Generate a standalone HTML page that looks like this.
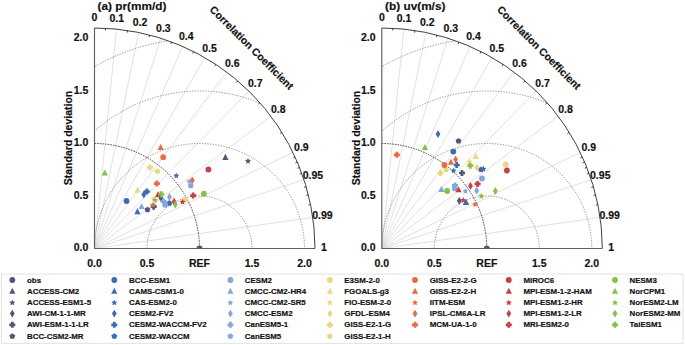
<!DOCTYPE html>
<html><head><meta charset="utf-8"><style>
html,body{margin:0;padding:0;background:#fff;}
svg{display:block;}
text{fill:#111;stroke:#111;stroke-width:0.18px;}
</style></head><body>
<svg width="685" height="345" viewBox="0 0 685 345">
<rect width="685" height="345" fill="#fff"/>
<clipPath id="clip0"><path d="M94.5,248.5 L94.5,28 A220.5,220.5 0 0 1 315,248.5 Z"/></clipPath>
<line x1="94.5" y1="248.5" x2="116.55" y2="29.11" stroke="#d4d4d4" stroke-width="0.7"/>
<line x1="94.5" y1="248.5" x2="138.6" y2="32.46" stroke="#d4d4d4" stroke-width="0.7"/>
<line x1="94.5" y1="248.5" x2="160.65" y2="38.16" stroke="#d4d4d4" stroke-width="0.7"/>
<line x1="94.5" y1="248.5" x2="182.7" y2="46.41" stroke="#d4d4d4" stroke-width="0.7"/>
<line x1="94.5" y1="248.5" x2="204.75" y2="57.54" stroke="#d4d4d4" stroke-width="0.7"/>
<line x1="94.5" y1="248.5" x2="226.8" y2="72.1" stroke="#d4d4d4" stroke-width="0.7"/>
<line x1="94.5" y1="248.5" x2="248.85" y2="91.03" stroke="#d4d4d4" stroke-width="0.7"/>
<line x1="94.5" y1="248.5" x2="270.9" y2="116.2" stroke="#d4d4d4" stroke-width="0.7"/>
<line x1="94.5" y1="248.5" x2="292.95" y2="152.39" stroke="#d4d4d4" stroke-width="0.7"/>
<line x1="94.5" y1="248.5" x2="303.98" y2="179.65" stroke="#d4d4d4" stroke-width="0.7"/>
<line x1="94.5" y1="248.5" x2="312.79" y2="217.39" stroke="#d4d4d4" stroke-width="0.7"/>
<g clip-path="url(#clip0)" fill="none" stroke="#707070" stroke-width="0.7" stroke-dasharray="1.4,1.3"><circle cx="199.5" cy="248.5" r="52.5"/><circle cx="199.5" cy="248.5" r="105"/><circle cx="199.5" cy="248.5" r="157.5"/><circle cx="199.5" cy="248.5" r="210"/></g>
<path d="M94.5,143.5 A105,105 0 0 1 199.5,248.5" fill="none" stroke="#333" stroke-width="0.9" stroke-dasharray="1.6,1.05"/>
<path d="M94.5,28 A220.5,220.5 0 0 1 315,248.5" fill="none" stroke="#2a2a2a" stroke-width="0.9"/>
<line x1="105.53" y1="28.28" x2="105.42" y2="30.47" stroke="#222" stroke-width="0.8"/>
<line x1="127.57" y1="30.49" x2="127.25" y2="32.67" stroke="#222" stroke-width="0.8"/>
<line x1="149.62" y1="35" x2="149.07" y2="37.13" stroke="#222" stroke-width="0.8"/>
<line x1="171.68" y1="41.95" x2="170.91" y2="44.01" stroke="#222" stroke-width="0.8"/>
<line x1="193.73" y1="51.59" x2="192.74" y2="53.55" stroke="#222" stroke-width="0.8"/>
<line x1="215.78" y1="64.35" x2="214.56" y2="66.18" stroke="#222" stroke-width="0.8"/>
<line x1="237.83" y1="80.93" x2="236.4" y2="82.61" stroke="#222" stroke-width="0.8"/>
<line x1="259.88" y1="102.65" x2="258.23" y2="104.11" stroke="#222" stroke-width="0.8"/>
<line x1="281.92" y1="132.34" x2="280.06" y2="133.5" stroke="#222" stroke-width="0.8"/>
<line x1="295.15" y1="157.08" x2="293.15" y2="157.99" stroke="#222" stroke-width="0.8"/>
<line x1="297.36" y1="162.08" x2="295.34" y2="162.94" stroke="#222" stroke-width="0.8"/>
<line x1="299.56" y1="167.45" x2="297.52" y2="168.26" stroke="#222" stroke-width="0.8"/>
<line x1="301.77" y1="173.27" x2="299.7" y2="174.02" stroke="#222" stroke-width="0.8"/>
<line x1="306.18" y1="186.76" x2="304.07" y2="187.38" stroke="#222" stroke-width="0.8"/>
<line x1="308.38" y1="194.9" x2="306.25" y2="195.43" stroke="#222" stroke-width="0.8"/>
<line x1="310.59" y1="204.62" x2="308.43" y2="205.06" stroke="#222" stroke-width="0.8"/>
<path d="M94.5,28 L94.5,248.5 L315,248.5" fill="none" stroke="#606060" stroke-width="1.15"/>
<text x="94.5" y="21.15" font-family="Liberation Sans, sans-serif" font-weight="bold" font-size="10.5" text-anchor="middle">0</text>
<text x="116.8" y="22.2" font-family="Liberation Sans, sans-serif" font-weight="bold" font-size="10.5" text-anchor="middle">0.1</text>
<text x="140.05" y="25.75" font-family="Liberation Sans, sans-serif" font-weight="bold" font-size="10.5" text-anchor="middle">0.2</text>
<text x="163.4" y="31.55" font-family="Liberation Sans, sans-serif" font-weight="bold" font-size="10.5" text-anchor="middle">0.3</text>
<text x="186.2" y="40.45" font-family="Liberation Sans, sans-serif" font-weight="bold" font-size="10.5" text-anchor="middle">0.4</text>
<text x="209.5" y="51.8" font-family="Liberation Sans, sans-serif" font-weight="bold" font-size="10.5" text-anchor="middle">0.5</text>
<text x="232.3" y="67" font-family="Liberation Sans, sans-serif" font-weight="bold" font-size="10.5" text-anchor="middle">0.6</text>
<text x="255.3" y="86.65" font-family="Liberation Sans, sans-serif" font-weight="bold" font-size="10.5" text-anchor="middle">0.7</text>
<text x="278.3" y="113" font-family="Liberation Sans, sans-serif" font-weight="bold" font-size="10.5" text-anchor="middle">0.8</text>
<text x="301.4" y="150.65" font-family="Liberation Sans, sans-serif" font-weight="bold" font-size="10.5" text-anchor="middle">0.9</text>
<text x="312.95" y="179.4" font-family="Liberation Sans, sans-serif" font-weight="bold" font-size="10.5" text-anchor="middle">0.95</text>
<text x="322.4" y="219.1" font-family="Liberation Sans, sans-serif" font-weight="bold" font-size="10.5" text-anchor="middle">0.99</text>
<text x="323.9" y="251.1" font-family="Liberation Sans, sans-serif" font-weight="bold" font-size="10.5" text-anchor="middle">1</text>
<text x="88.3" y="251.4" font-family="Liberation Sans, sans-serif" font-weight="bold" font-size="10.5" text-anchor="end">0.0</text>
<text x="88.3" y="198.9" font-family="Liberation Sans, sans-serif" font-weight="bold" font-size="10.5" text-anchor="end">0.5</text>
<text x="88.3" y="146.4" font-family="Liberation Sans, sans-serif" font-weight="bold" font-size="10.5" text-anchor="end">1.0</text>
<text x="88.3" y="93.9" font-family="Liberation Sans, sans-serif" font-weight="bold" font-size="10.5" text-anchor="end">1.5</text>
<text x="88.3" y="41.4" font-family="Liberation Sans, sans-serif" font-weight="bold" font-size="10.5" text-anchor="end">2.0</text>
<text x="94.5" y="267.1" font-family="Liberation Sans, sans-serif" font-weight="bold" font-size="10.5" text-anchor="middle">0.0</text>
<text x="147" y="267.1" font-family="Liberation Sans, sans-serif" font-weight="bold" font-size="10.5" text-anchor="middle">0.5</text>
<text x="199.5" y="267.1" font-family="Liberation Sans, sans-serif" font-weight="bold" font-size="10.5" text-anchor="middle">REF</text>
<text x="252" y="267.1" font-family="Liberation Sans, sans-serif" font-weight="bold" font-size="10.5" text-anchor="middle">1.5</text>
<text x="304.5" y="267.1" font-family="Liberation Sans, sans-serif" font-weight="bold" font-size="10.5" text-anchor="middle">2.0</text>
<text x="0" y="0" font-family="Liberation Sans, sans-serif" font-weight="bold" font-size="10.5" text-anchor="middle" transform="translate(72.2,138) rotate(-90)">Standard deviation</text>
<text x="0" y="0" font-family="Liberation Sans, sans-serif" font-weight="bold" font-size="10.5" transform="translate(209.1,10.3) rotate(45)">Correlation Coefficient</text>
<clipPath id="clip1"><path d="M381.8,248.5 L381.8,28 A220.5,220.5 0 0 1 602.3,248.5 Z"/></clipPath>
<line x1="381.8" y1="248.5" x2="403.85" y2="29.11" stroke="#d4d4d4" stroke-width="0.7"/>
<line x1="381.8" y1="248.5" x2="425.9" y2="32.46" stroke="#d4d4d4" stroke-width="0.7"/>
<line x1="381.8" y1="248.5" x2="447.95" y2="38.16" stroke="#d4d4d4" stroke-width="0.7"/>
<line x1="381.8" y1="248.5" x2="470" y2="46.41" stroke="#d4d4d4" stroke-width="0.7"/>
<line x1="381.8" y1="248.5" x2="492.05" y2="57.54" stroke="#d4d4d4" stroke-width="0.7"/>
<line x1="381.8" y1="248.5" x2="514.1" y2="72.1" stroke="#d4d4d4" stroke-width="0.7"/>
<line x1="381.8" y1="248.5" x2="536.15" y2="91.03" stroke="#d4d4d4" stroke-width="0.7"/>
<line x1="381.8" y1="248.5" x2="558.2" y2="116.2" stroke="#d4d4d4" stroke-width="0.7"/>
<line x1="381.8" y1="248.5" x2="580.25" y2="152.39" stroke="#d4d4d4" stroke-width="0.7"/>
<line x1="381.8" y1="248.5" x2="591.27" y2="179.65" stroke="#d4d4d4" stroke-width="0.7"/>
<line x1="381.8" y1="248.5" x2="600.1" y2="217.39" stroke="#d4d4d4" stroke-width="0.7"/>
<g clip-path="url(#clip1)" fill="none" stroke="#707070" stroke-width="0.7" stroke-dasharray="1.4,1.3"><circle cx="486.8" cy="248.5" r="52.5"/><circle cx="486.8" cy="248.5" r="105"/><circle cx="486.8" cy="248.5" r="157.5"/><circle cx="486.8" cy="248.5" r="210"/></g>
<path d="M381.8,143.5 A105,105 0 0 1 486.8,248.5" fill="none" stroke="#333" stroke-width="0.9" stroke-dasharray="1.6,1.05"/>
<path d="M381.8,28 A220.5,220.5 0 0 1 602.3,248.5" fill="none" stroke="#2a2a2a" stroke-width="0.9"/>
<line x1="392.83" y1="28.28" x2="392.72" y2="30.47" stroke="#222" stroke-width="0.8"/>
<line x1="414.88" y1="30.49" x2="414.55" y2="32.67" stroke="#222" stroke-width="0.8"/>
<line x1="436.93" y1="35" x2="436.38" y2="37.13" stroke="#222" stroke-width="0.8"/>
<line x1="458.98" y1="41.95" x2="458.21" y2="44.01" stroke="#222" stroke-width="0.8"/>
<line x1="481.03" y1="51.59" x2="480.04" y2="53.55" stroke="#222" stroke-width="0.8"/>
<line x1="503.08" y1="64.35" x2="501.87" y2="66.18" stroke="#222" stroke-width="0.8"/>
<line x1="525.12" y1="80.93" x2="523.7" y2="82.61" stroke="#222" stroke-width="0.8"/>
<line x1="547.17" y1="102.65" x2="545.53" y2="104.11" stroke="#222" stroke-width="0.8"/>
<line x1="569.23" y1="132.34" x2="567.36" y2="133.5" stroke="#222" stroke-width="0.8"/>
<line x1="582.46" y1="157.08" x2="580.45" y2="157.99" stroke="#222" stroke-width="0.8"/>
<line x1="584.66" y1="162.08" x2="582.64" y2="162.94" stroke="#222" stroke-width="0.8"/>
<line x1="586.87" y1="167.45" x2="584.82" y2="168.26" stroke="#222" stroke-width="0.8"/>
<line x1="589.07" y1="173.27" x2="587" y2="174.02" stroke="#222" stroke-width="0.8"/>
<line x1="593.48" y1="186.76" x2="591.37" y2="187.38" stroke="#222" stroke-width="0.8"/>
<line x1="595.68" y1="194.9" x2="593.55" y2="195.43" stroke="#222" stroke-width="0.8"/>
<line x1="597.89" y1="204.62" x2="595.73" y2="205.06" stroke="#222" stroke-width="0.8"/>
<path d="M381.8,28 L381.8,248.5 L602.3,248.5" fill="none" stroke="#606060" stroke-width="1.15"/>
<text x="381.8" y="21.15" font-family="Liberation Sans, sans-serif" font-weight="bold" font-size="10.5" text-anchor="middle">0</text>
<text x="404.1" y="22.2" font-family="Liberation Sans, sans-serif" font-weight="bold" font-size="10.5" text-anchor="middle">0.1</text>
<text x="427.35" y="25.75" font-family="Liberation Sans, sans-serif" font-weight="bold" font-size="10.5" text-anchor="middle">0.2</text>
<text x="450.7" y="31.55" font-family="Liberation Sans, sans-serif" font-weight="bold" font-size="10.5" text-anchor="middle">0.3</text>
<text x="473.5" y="40.45" font-family="Liberation Sans, sans-serif" font-weight="bold" font-size="10.5" text-anchor="middle">0.4</text>
<text x="496.8" y="51.8" font-family="Liberation Sans, sans-serif" font-weight="bold" font-size="10.5" text-anchor="middle">0.5</text>
<text x="519.6" y="67" font-family="Liberation Sans, sans-serif" font-weight="bold" font-size="10.5" text-anchor="middle">0.6</text>
<text x="542.6" y="86.65" font-family="Liberation Sans, sans-serif" font-weight="bold" font-size="10.5" text-anchor="middle">0.7</text>
<text x="565.6" y="113" font-family="Liberation Sans, sans-serif" font-weight="bold" font-size="10.5" text-anchor="middle">0.8</text>
<text x="588.7" y="150.65" font-family="Liberation Sans, sans-serif" font-weight="bold" font-size="10.5" text-anchor="middle">0.9</text>
<text x="600.25" y="179.4" font-family="Liberation Sans, sans-serif" font-weight="bold" font-size="10.5" text-anchor="middle">0.95</text>
<text x="609.7" y="219.1" font-family="Liberation Sans, sans-serif" font-weight="bold" font-size="10.5" text-anchor="middle">0.99</text>
<text x="611.2" y="251.1" font-family="Liberation Sans, sans-serif" font-weight="bold" font-size="10.5" text-anchor="middle">1</text>
<text x="375.6" y="251.4" font-family="Liberation Sans, sans-serif" font-weight="bold" font-size="10.5" text-anchor="end">0.0</text>
<text x="375.6" y="198.9" font-family="Liberation Sans, sans-serif" font-weight="bold" font-size="10.5" text-anchor="end">0.5</text>
<text x="375.6" y="146.4" font-family="Liberation Sans, sans-serif" font-weight="bold" font-size="10.5" text-anchor="end">1.0</text>
<text x="375.6" y="93.9" font-family="Liberation Sans, sans-serif" font-weight="bold" font-size="10.5" text-anchor="end">1.5</text>
<text x="375.6" y="41.4" font-family="Liberation Sans, sans-serif" font-weight="bold" font-size="10.5" text-anchor="end">2.0</text>
<text x="381.8" y="267.1" font-family="Liberation Sans, sans-serif" font-weight="bold" font-size="10.5" text-anchor="middle">0.0</text>
<text x="434.3" y="267.1" font-family="Liberation Sans, sans-serif" font-weight="bold" font-size="10.5" text-anchor="middle">0.5</text>
<text x="486.8" y="267.1" font-family="Liberation Sans, sans-serif" font-weight="bold" font-size="10.5" text-anchor="middle">REF</text>
<text x="539.3" y="267.1" font-family="Liberation Sans, sans-serif" font-weight="bold" font-size="10.5" text-anchor="middle">1.5</text>
<text x="591.8" y="267.1" font-family="Liberation Sans, sans-serif" font-weight="bold" font-size="10.5" text-anchor="middle">2.0</text>
<text x="0" y="0" font-family="Liberation Sans, sans-serif" font-weight="bold" font-size="10.5" text-anchor="middle" transform="translate(359.5,138) rotate(-90)">Standard deviation</text>
<text x="0" y="0" font-family="Liberation Sans, sans-serif" font-weight="bold" font-size="10.5" transform="translate(496.4,10.3) rotate(45)">Correlation Coefficient</text>
<path d="M196.5,248.5 A3,3 0 0 1 202.5,248.5 Z" fill="#4e5879"/>
<polygon points="225.4,153.8 228.5,159.9 222.3,159.9" fill="#4e5879"/>
<polygon points="248,157.9 248.91,159.85 251.04,160.11 249.47,161.58 249.88,163.69 248,162.65 246.12,163.69 246.53,161.58 244.96,160.11 247.09,159.85" fill="#4e5879"/>
<polygon points="161,194.3 163.4,198.2 161,202.1 158.6,198.2" fill="#4e5879"/>
<polygon points="152.35,203.7 155.05,203.7 155.05,205.35 156.7,205.35 156.7,208.05 155.05,208.05 155.05,209.7 152.35,209.7 152.35,208.05 150.7,208.05 150.7,205.35 152.35,205.35" fill="#4e5879"/>
<polygon points="147.5,206.7 150.45,208.84 149.32,212.31 145.68,212.31 144.55,208.84" fill="#4e5879"/>
<circle cx="126.5" cy="201" r="2.9" fill="#3a6cb6"/>
<polygon points="137.4,208.1 140.5,214.2 134.3,214.2" fill="#3a6cb6"/>
<polygon points="176.3,172.5 177.21,174.45 179.34,174.71 177.77,176.18 178.18,178.29 176.3,177.25 174.42,178.29 174.83,176.18 173.26,174.71 175.39,174.45" fill="#3a6cb6"/>
<polygon points="143.8,190.6 146.2,194.5 143.8,198.4 141.4,194.5" fill="#3a6cb6"/>
<polygon points="145.45,188.6 148.15,188.6 148.15,190.25 149.8,190.25 149.8,192.95 148.15,192.95 148.15,194.6 145.45,194.6 145.45,192.95 143.8,192.95 143.8,190.25 145.45,190.25" fill="#3a6cb6"/>
<polygon points="169.4,200.1 172.35,202.24 171.22,205.71 167.58,205.71 166.45,202.24" fill="#3a6cb6"/>
<circle cx="165.2" cy="204.8" r="2.9" fill="#80a7e2"/>
<polygon points="141.6,202.9 144.7,209 138.5,209" fill="#80a7e2"/>
<polygon points="189.3,178.3 190.21,180.25 192.34,180.51 190.77,181.98 191.18,184.09 189.3,183.05 187.42,184.09 187.83,181.98 186.26,180.51 188.39,180.25" fill="#80a7e2"/>
<polygon points="169.4,193.1 171.8,197 169.4,200.9 167,197" fill="#80a7e2"/>
<polygon points="162.15,198.4 164.85,198.4 164.85,200.05 166.5,200.05 166.5,202.75 164.85,202.75 164.85,204.4 162.15,204.4 162.15,202.75 160.5,202.75 160.5,200.05 162.15,200.05" fill="#80a7e2"/>
<polygon points="190.7,182.7 193.65,184.84 192.52,188.31 188.88,188.31 187.75,184.84" fill="#80a7e2"/>
<circle cx="185.1" cy="199.7" r="2.9" fill="#ecd77a"/>
<polygon points="137.5,186.7 140.6,192.8 134.4,192.8" fill="#ecd77a"/>
<polygon points="153.7,195.6 154.61,197.55 156.74,197.81 155.17,199.28 155.58,201.39 153.7,200.35 151.82,201.39 152.23,199.28 150.66,197.81 152.79,197.55" fill="#ecd77a"/>
<polygon points="173.4,196.5 175.8,200.4 173.4,204.3 171,200.4" fill="#ecd77a"/>
<polygon points="148.55,164.4 151.25,164.4 151.25,166.05 152.9,166.05 152.9,168.75 151.25,168.75 151.25,170.4 148.55,170.4 148.55,168.75 146.9,168.75 146.9,166.05 148.55,166.05" fill="#ecd77a"/>
<polygon points="157.4,168.2 160.35,170.34 159.22,173.81 155.58,173.81 154.45,170.34" fill="#ecd77a"/>
<circle cx="163.2" cy="157.2" r="2.9" fill="#ec6a40"/>
<polygon points="160.7,143.8 163.8,149.9 157.6,149.9" fill="#ec6a40"/>
<polygon points="153,201.8 153.91,203.75 156.04,204.01 154.47,205.48 154.88,207.59 153,206.55 151.12,207.59 151.53,205.48 149.96,204.01 152.09,203.75" fill="#ec6a40"/>
<polygon points="192.3,176.4 194.7,180.3 192.3,184.2 189.9,180.3" fill="#ec6a40"/>
<polygon points="155.55,180.6 158.25,180.6 158.25,182.25 159.9,182.25 159.9,184.95 158.25,184.95 158.25,186.6 155.55,186.6 155.55,184.95 153.9,184.95 153.9,182.25 155.55,182.25" fill="#ec6a40"/>
<circle cx="208.4" cy="169.5" r="2.9" fill="#d13a47"/>
<polygon points="158.1,191.1 161.2,197.2 155,197.2" fill="#d13a47"/>
<polygon points="182.5,198.7 183.41,200.65 185.54,200.91 183.97,202.38 184.38,204.49 182.5,203.45 180.62,204.49 181.03,202.38 179.46,200.91 181.59,200.65" fill="#d13a47"/>
<polygon points="174.3,198 176.7,201.9 174.3,205.8 171.9,201.9" fill="#d13a47"/>
<polygon points="191.85,192.6 194.55,192.6 194.55,194.25 196.2,194.25 196.2,196.95 194.55,196.95 194.55,198.6 191.85,198.6 191.85,196.95 190.2,196.95 190.2,194.25 191.85,194.25" fill="#d13a47"/>
<circle cx="203.9" cy="193.7" r="2.9" fill="#86c241"/>
<polygon points="104.8,169.5 107.9,175.6 101.7,175.6" fill="#86c241"/>
<polygon points="155.1,197 156.01,198.95 158.14,199.21 156.57,200.68 156.98,202.79 155.1,201.75 153.22,202.79 153.63,200.68 152.06,199.21 154.19,198.95" fill="#86c241"/>
<polygon points="175.3,200.6 177.7,204.5 175.3,208.4 172.9,204.5" fill="#86c241"/>
<polygon points="159.85,191.2 162.55,191.2 162.55,192.85 164.2,192.85 164.2,195.55 162.55,195.55 162.55,197.2 159.85,197.2 159.85,195.55 158.2,195.55 158.2,192.85 159.85,192.85" fill="#86c241"/>
<path d="M483.8,248.5 A3,3 0 0 1 489.8,248.5 Z" fill="#4e5879"/>
<polygon points="466,198.9 469.1,205 462.9,205" fill="#4e5879"/>
<polygon points="483.3,165.8 484.21,167.75 486.34,168.01 484.77,169.48 485.18,171.59 483.3,170.55 481.42,171.59 481.83,169.48 480.26,168.01 482.39,167.75" fill="#4e5879"/>
<polygon points="459.3,196.9 461.7,200.8 459.3,204.7 456.9,200.8" fill="#4e5879"/>
<polygon points="460.65,170 463.35,170 463.35,171.65 465,171.65 465,174.35 463.35,174.35 463.35,176 460.65,176 460.65,174.35 459,174.35 459,171.65 460.65,171.65" fill="#4e5879"/>
<polygon points="458.5,137.9 461.45,140.04 460.32,143.51 456.68,143.51 455.55,140.04" fill="#4e5879"/>
<circle cx="453.3" cy="151.6" r="2.9" fill="#3a6cb6"/>
<polygon points="466,198.9 469.1,205 462.9,205" fill="#3a6cb6"/>
<polygon points="453.5,167.5 454.41,169.45 456.54,169.71 454.97,171.18 455.38,173.29 453.5,172.25 451.62,173.29 452.03,171.18 450.46,169.71 452.59,169.45" fill="#3a6cb6"/>
<polygon points="438,130.2 440.4,134.1 438,138 435.6,134.1" fill="#3a6cb6"/>
<polygon points="455.35,162 458.05,162 458.05,163.65 459.7,163.65 459.7,166.35 458.05,166.35 458.05,168 455.35,168 455.35,166.35 453.7,166.35 453.7,163.65 455.35,163.65" fill="#3a6cb6"/>
<polygon points="481,166.5 483.95,168.64 482.82,172.11 479.18,172.11 478.05,168.64" fill="#3a6cb6"/>
<circle cx="482" cy="178.5" r="2.9" fill="#80a7e2"/>
<polygon points="441.5,185.8 444.6,191.9 438.4,191.9" fill="#80a7e2"/>
<polygon points="465.4,188.1 466.31,190.05 468.44,190.31 466.87,191.78 467.28,193.89 465.4,192.85 463.52,193.89 463.93,191.78 462.36,190.31 464.49,190.05" fill="#80a7e2"/>
<polygon points="476.7,186.7 479.1,190.6 476.7,194.5 474.3,190.6" fill="#80a7e2"/>
<polygon points="453.65,182.4 456.35,182.4 456.35,184.05 458,184.05 458,186.75 456.35,186.75 456.35,188.4 453.65,188.4 453.65,186.75 452,186.75 452,184.05 453.65,184.05" fill="#80a7e2"/>
<polygon points="454.6,185.6 457.55,187.74 456.42,191.21 452.78,191.21 451.65,187.74" fill="#80a7e2"/>
<circle cx="505.7" cy="164.5" r="2.9" fill="#ecd77a"/>
<polygon points="475.7,152.8 478.8,158.9 472.6,158.9" fill="#ecd77a"/>
<polygon points="469.4,158.6 470.31,160.55 472.44,160.81 470.87,162.28 471.28,164.39 469.4,163.35 467.52,164.39 467.93,162.28 466.36,160.81 468.49,160.55" fill="#ecd77a"/>
<polygon points="476.8,163.7 479.2,167.6 476.8,171.5 474.4,167.6" fill="#ecd77a"/>
<polygon points="439.05,170 441.75,170 441.75,171.65 443.4,171.65 443.4,174.35 441.75,174.35 441.75,176 439.05,176 439.05,174.35 437.4,174.35 437.4,171.65 439.05,171.65" fill="#ecd77a"/>
<polygon points="446.1,166.5 449.05,168.64 447.92,172.11 444.28,172.11 443.15,168.64" fill="#ecd77a"/>
<circle cx="444.4" cy="165" r="2.9" fill="#ec6a40"/>
<polygon points="450.9,158.7 454,164.8 447.8,164.8" fill="#ec6a40"/>
<polygon points="475.1,201.3 476.01,203.25 478.14,203.51 476.57,204.98 476.98,207.09 475.1,206.05 473.22,207.09 473.63,204.98 472.06,203.51 474.19,203.25" fill="#ec6a40"/>
<polygon points="455.6,155.5 458,159.4 455.6,163.3 453.2,159.4" fill="#ec6a40"/>
<polygon points="395.55,151.8 398.25,151.8 398.25,153.45 399.9,153.45 399.9,156.15 398.25,156.15 398.25,157.8 395.55,157.8 395.55,156.15 393.9,156.15 393.9,153.45 395.55,153.45" fill="#ec6a40"/>
<circle cx="506.9" cy="170.5" r="2.9" fill="#d13a47"/>
<polygon points="458.5,186.2 461.6,192.3 455.4,192.3" fill="#d13a47"/>
<polygon points="463.3,197.1 464.21,199.05 466.34,199.31 464.77,200.78 465.18,202.89 463.3,201.85 461.42,202.89 461.83,200.78 460.26,199.31 462.39,199.05" fill="#d13a47"/>
<polygon points="470.5,182 472.9,185.9 470.5,189.8 468.1,185.9" fill="#d13a47"/>
<polygon points="476.25,180.9 478.95,180.9 478.95,182.55 480.6,182.55 480.6,185.25 478.95,185.25 478.95,186.9 476.25,186.9 476.25,185.25 474.6,185.25 474.6,182.55 476.25,182.55" fill="#d13a47"/>
<circle cx="447.2" cy="191" r="2.9" fill="#86c241"/>
<polygon points="425,144 428.1,150.1 421.9,150.1" fill="#86c241"/>
<polygon points="481.3,192.9 482.21,194.85 484.34,195.11 482.77,196.58 483.18,198.69 481.3,197.65 479.42,198.69 479.83,196.58 478.26,195.11 480.39,194.85" fill="#86c241"/>
<polygon points="495.4,187.1 497.8,191 495.4,194.9 493,191" fill="#86c241"/>
<polygon points="468.95,162.7 471.65,162.7 471.65,164.35 473.3,164.35 473.3,167.05 471.65,167.05 471.65,168.7 468.95,168.7 468.95,167.05 467.3,167.05 467.3,164.35 468.95,164.35" fill="#86c241"/>
<text x="97.5" y="10.4" font-family="Liberation Sans, sans-serif" font-weight="bold" font-size="11.8">(a) pr(mm/d)</text>
<text x="385.1" y="10.4" font-family="Liberation Sans, sans-serif" font-weight="bold" font-size="11.8">(b) uv(m/s)</text>
<rect x="1.5" y="274" width="681.5" height="69.3" fill="#fff" stroke="#dcdcdc" stroke-width="0.8"/>
<circle cx="12.3" cy="280" r="2.9" fill="#4e5879"/>
<text x="27" y="282.65" font-family="Liberation Sans, sans-serif" font-weight="bold" font-size="7.9" fill="#111">obs</text>
<polygon points="12.3,287.7 15.4,293.8 9.2,293.8" fill="#4e5879"/>
<text x="27" y="293.85" font-family="Liberation Sans, sans-serif" font-weight="bold" font-size="7.9" fill="#111">ACCESS-CM2</text>
<polygon points="12.3,299.5 13.21,301.45 15.34,301.71 13.77,303.18 14.18,305.29 12.3,304.25 10.42,305.29 10.83,303.18 9.26,301.71 11.39,301.45" fill="#4e5879"/>
<text x="27" y="305.05" font-family="Liberation Sans, sans-serif" font-weight="bold" font-size="7.9" fill="#111">ACCESS-ESM1-5</text>
<polygon points="12.3,309.7 14.7,313.6 12.3,317.5 9.9,313.6" fill="#4e5879"/>
<text x="27" y="316.25" font-family="Liberation Sans, sans-serif" font-weight="bold" font-size="7.9" fill="#111">AWI-CM-1-1-MR</text>
<polygon points="10.95,321.8 13.65,321.8 13.65,323.45 15.3,323.45 15.3,326.15 13.65,326.15 13.65,327.8 10.95,327.8 10.95,326.15 9.3,326.15 9.3,323.45 10.95,323.45" fill="#4e5879"/>
<text x="27" y="327.45" font-family="Liberation Sans, sans-serif" font-weight="bold" font-size="7.9" fill="#111">AWI-ESM-1-1-LR</text>
<polygon points="12.3,333.2 15.25,335.34 14.12,338.81 10.48,338.81 9.35,335.34" fill="#4e5879"/>
<text x="27" y="338.65" font-family="Liberation Sans, sans-serif" font-weight="bold" font-size="7.9" fill="#111">BCC-CSM2-MR</text>
<circle cx="114.3" cy="280" r="2.9" fill="#3a6cb6"/>
<text x="129" y="282.65" font-family="Liberation Sans, sans-serif" font-weight="bold" font-size="7.9" fill="#111">BCC-ESM1</text>
<polygon points="114.3,287.7 117.4,293.8 111.2,293.8" fill="#3a6cb6"/>
<text x="129" y="293.85" font-family="Liberation Sans, sans-serif" font-weight="bold" font-size="7.9" fill="#111">CAMS-CSM1-0</text>
<polygon points="114.3,299.5 115.21,301.45 117.34,301.71 115.77,303.18 116.18,305.29 114.3,304.25 112.42,305.29 112.83,303.18 111.26,301.71 113.39,301.45" fill="#3a6cb6"/>
<text x="129" y="305.05" font-family="Liberation Sans, sans-serif" font-weight="bold" font-size="7.9" fill="#111">CAS-ESM2-0</text>
<polygon points="114.3,309.7 116.7,313.6 114.3,317.5 111.9,313.6" fill="#3a6cb6"/>
<text x="129" y="316.25" font-family="Liberation Sans, sans-serif" font-weight="bold" font-size="7.9" fill="#111">CESM2-FV2</text>
<polygon points="112.95,321.8 115.65,321.8 115.65,323.45 117.3,323.45 117.3,326.15 115.65,326.15 115.65,327.8 112.95,327.8 112.95,326.15 111.3,326.15 111.3,323.45 112.95,323.45" fill="#3a6cb6"/>
<text x="129" y="327.45" font-family="Liberation Sans, sans-serif" font-weight="bold" font-size="7.9" fill="#111">CESM2-WACCM-FV2</text>
<polygon points="114.3,333.2 117.25,335.34 116.12,338.81 112.48,338.81 111.35,335.34" fill="#3a6cb6"/>
<text x="129" y="338.65" font-family="Liberation Sans, sans-serif" font-weight="bold" font-size="7.9" fill="#111">CESM2-WACCM</text>
<circle cx="230.4" cy="280" r="2.9" fill="#80a7e2"/>
<text x="244.8" y="282.65" font-family="Liberation Sans, sans-serif" font-weight="bold" font-size="7.9" fill="#111">CESM2</text>
<polygon points="230.4,287.7 233.5,293.8 227.3,293.8" fill="#80a7e2"/>
<text x="244.8" y="293.85" font-family="Liberation Sans, sans-serif" font-weight="bold" font-size="7.9" fill="#111">CMCC-CM2-HR4</text>
<polygon points="230.4,299.5 231.31,301.45 233.44,301.71 231.87,303.18 232.28,305.29 230.4,304.25 228.52,305.29 228.93,303.18 227.36,301.71 229.49,301.45" fill="#80a7e2"/>
<text x="244.8" y="305.05" font-family="Liberation Sans, sans-serif" font-weight="bold" font-size="7.9" fill="#111">CMCC-CM2-SR5</text>
<polygon points="230.4,309.7 232.8,313.6 230.4,317.5 228,313.6" fill="#80a7e2"/>
<text x="244.8" y="316.25" font-family="Liberation Sans, sans-serif" font-weight="bold" font-size="7.9" fill="#111">CMCC-ESM2</text>
<polygon points="229.05,321.8 231.75,321.8 231.75,323.45 233.4,323.45 233.4,326.15 231.75,326.15 231.75,327.8 229.05,327.8 229.05,326.15 227.4,326.15 227.4,323.45 229.05,323.45" fill="#80a7e2"/>
<text x="244.8" y="327.45" font-family="Liberation Sans, sans-serif" font-weight="bold" font-size="7.9" fill="#111">CanESM5-1</text>
<polygon points="230.4,333.2 233.35,335.34 232.22,338.81 228.58,338.81 227.45,335.34" fill="#80a7e2"/>
<text x="244.8" y="338.65" font-family="Liberation Sans, sans-serif" font-weight="bold" font-size="7.9" fill="#111">CanESM5</text>
<circle cx="329.9" cy="280" r="2.9" fill="#ecd77a"/>
<text x="344.3" y="282.65" font-family="Liberation Sans, sans-serif" font-weight="bold" font-size="7.9" fill="#111">E3SM-2-0</text>
<polygon points="329.9,287.7 333,293.8 326.8,293.8" fill="#ecd77a"/>
<text x="344.3" y="293.85" font-family="Liberation Sans, sans-serif" font-weight="bold" font-size="7.9" fill="#111">FGOALS-g3</text>
<polygon points="329.9,299.5 330.81,301.45 332.94,301.71 331.37,303.18 331.78,305.29 329.9,304.25 328.02,305.29 328.43,303.18 326.86,301.71 328.99,301.45" fill="#ecd77a"/>
<text x="344.3" y="305.05" font-family="Liberation Sans, sans-serif" font-weight="bold" font-size="7.9" fill="#111">FIO-ESM-2-0</text>
<polygon points="329.9,309.7 332.3,313.6 329.9,317.5 327.5,313.6" fill="#ecd77a"/>
<text x="344.3" y="316.25" font-family="Liberation Sans, sans-serif" font-weight="bold" font-size="7.9" fill="#111">GFDL-ESM4</text>
<polygon points="328.55,321.8 331.25,321.8 331.25,323.45 332.9,323.45 332.9,326.15 331.25,326.15 331.25,327.8 328.55,327.8 328.55,326.15 326.9,326.15 326.9,323.45 328.55,323.45" fill="#ecd77a"/>
<text x="344.3" y="327.45" font-family="Liberation Sans, sans-serif" font-weight="bold" font-size="7.9" fill="#111">GISS-E2-1-G</text>
<polygon points="329.9,333.2 332.85,335.34 331.72,338.81 328.08,338.81 326.95,335.34" fill="#ecd77a"/>
<text x="344.3" y="338.65" font-family="Liberation Sans, sans-serif" font-weight="bold" font-size="7.9" fill="#111">GISS-E2-1-H</text>
<circle cx="415" cy="280" r="2.9" fill="#ec6a40"/>
<text x="429.7" y="282.65" font-family="Liberation Sans, sans-serif" font-weight="bold" font-size="7.9" fill="#111">GISS-E2-2-G</text>
<polygon points="415,287.7 418.1,293.8 411.9,293.8" fill="#ec6a40"/>
<text x="429.7" y="293.85" font-family="Liberation Sans, sans-serif" font-weight="bold" font-size="7.9" fill="#111">GISS-E2-2-H</text>
<polygon points="415,299.5 415.91,301.45 418.04,301.71 416.47,303.18 416.88,305.29 415,304.25 413.12,305.29 413.53,303.18 411.96,301.71 414.09,301.45" fill="#ec6a40"/>
<text x="429.7" y="305.05" font-family="Liberation Sans, sans-serif" font-weight="bold" font-size="7.9" fill="#111">IITM-ESM</text>
<polygon points="415,309.7 417.4,313.6 415,317.5 412.6,313.6" fill="#ec6a40"/>
<text x="429.7" y="316.25" font-family="Liberation Sans, sans-serif" font-weight="bold" font-size="7.9" fill="#111">IPSL-CM6A-LR</text>
<polygon points="413.65,321.8 416.35,321.8 416.35,323.45 418,323.45 418,326.15 416.35,326.15 416.35,327.8 413.65,327.8 413.65,326.15 412,326.15 412,323.45 413.65,323.45" fill="#ec6a40"/>
<text x="429.7" y="327.45" font-family="Liberation Sans, sans-serif" font-weight="bold" font-size="7.9" fill="#111">MCM-UA-1-0</text>
<circle cx="508.8" cy="280" r="2.9" fill="#d13a47"/>
<text x="523.4" y="282.65" font-family="Liberation Sans, sans-serif" font-weight="bold" font-size="7.9" fill="#111">MIROC6</text>
<polygon points="508.8,287.7 511.9,293.8 505.7,293.8" fill="#d13a47"/>
<text x="523.4" y="293.85" font-family="Liberation Sans, sans-serif" font-weight="bold" font-size="7.9" fill="#111">MPI-ESM-1-2-HAM</text>
<polygon points="508.8,299.5 509.71,301.45 511.84,301.71 510.27,303.18 510.68,305.29 508.8,304.25 506.92,305.29 507.33,303.18 505.76,301.71 507.89,301.45" fill="#d13a47"/>
<text x="523.4" y="305.05" font-family="Liberation Sans, sans-serif" font-weight="bold" font-size="7.9" fill="#111">MPI-ESM1-2-HR</text>
<polygon points="508.8,309.7 511.2,313.6 508.8,317.5 506.4,313.6" fill="#d13a47"/>
<text x="523.4" y="316.25" font-family="Liberation Sans, sans-serif" font-weight="bold" font-size="7.9" fill="#111">MPI-ESM1-2-LR</text>
<polygon points="507.45,321.8 510.15,321.8 510.15,323.45 511.8,323.45 511.8,326.15 510.15,326.15 510.15,327.8 507.45,327.8 507.45,326.15 505.8,326.15 505.8,323.45 507.45,323.45" fill="#d13a47"/>
<text x="523.4" y="327.45" font-family="Liberation Sans, sans-serif" font-weight="bold" font-size="7.9" fill="#111">MRI-ESM2-0</text>
<circle cx="615" cy="280" r="2.9" fill="#86c241"/>
<text x="629.6" y="282.65" font-family="Liberation Sans, sans-serif" font-weight="bold" font-size="7.9" fill="#111">NESM3</text>
<polygon points="615,287.7 618.1,293.8 611.9,293.8" fill="#86c241"/>
<text x="629.6" y="293.85" font-family="Liberation Sans, sans-serif" font-weight="bold" font-size="7.9" fill="#111">NorCPM1</text>
<polygon points="615,299.5 615.91,301.45 618.04,301.71 616.47,303.18 616.88,305.29 615,304.25 613.12,305.29 613.53,303.18 611.96,301.71 614.09,301.45" fill="#86c241"/>
<text x="629.6" y="305.05" font-family="Liberation Sans, sans-serif" font-weight="bold" font-size="7.9" fill="#111">NorESM2-LM</text>
<polygon points="615,309.7 617.4,313.6 615,317.5 612.6,313.6" fill="#86c241"/>
<text x="629.6" y="316.25" font-family="Liberation Sans, sans-serif" font-weight="bold" font-size="7.9" fill="#111">NorESM2-MM</text>
<polygon points="613.65,321.8 616.35,321.8 616.35,323.45 618,323.45 618,326.15 616.35,326.15 616.35,327.8 613.65,327.8 613.65,326.15 612,326.15 612,323.45 613.65,323.45" fill="#86c241"/>
<text x="629.6" y="327.45" font-family="Liberation Sans, sans-serif" font-weight="bold" font-size="7.9" fill="#111">TaiESM1</text>
</svg>
</body></html>
